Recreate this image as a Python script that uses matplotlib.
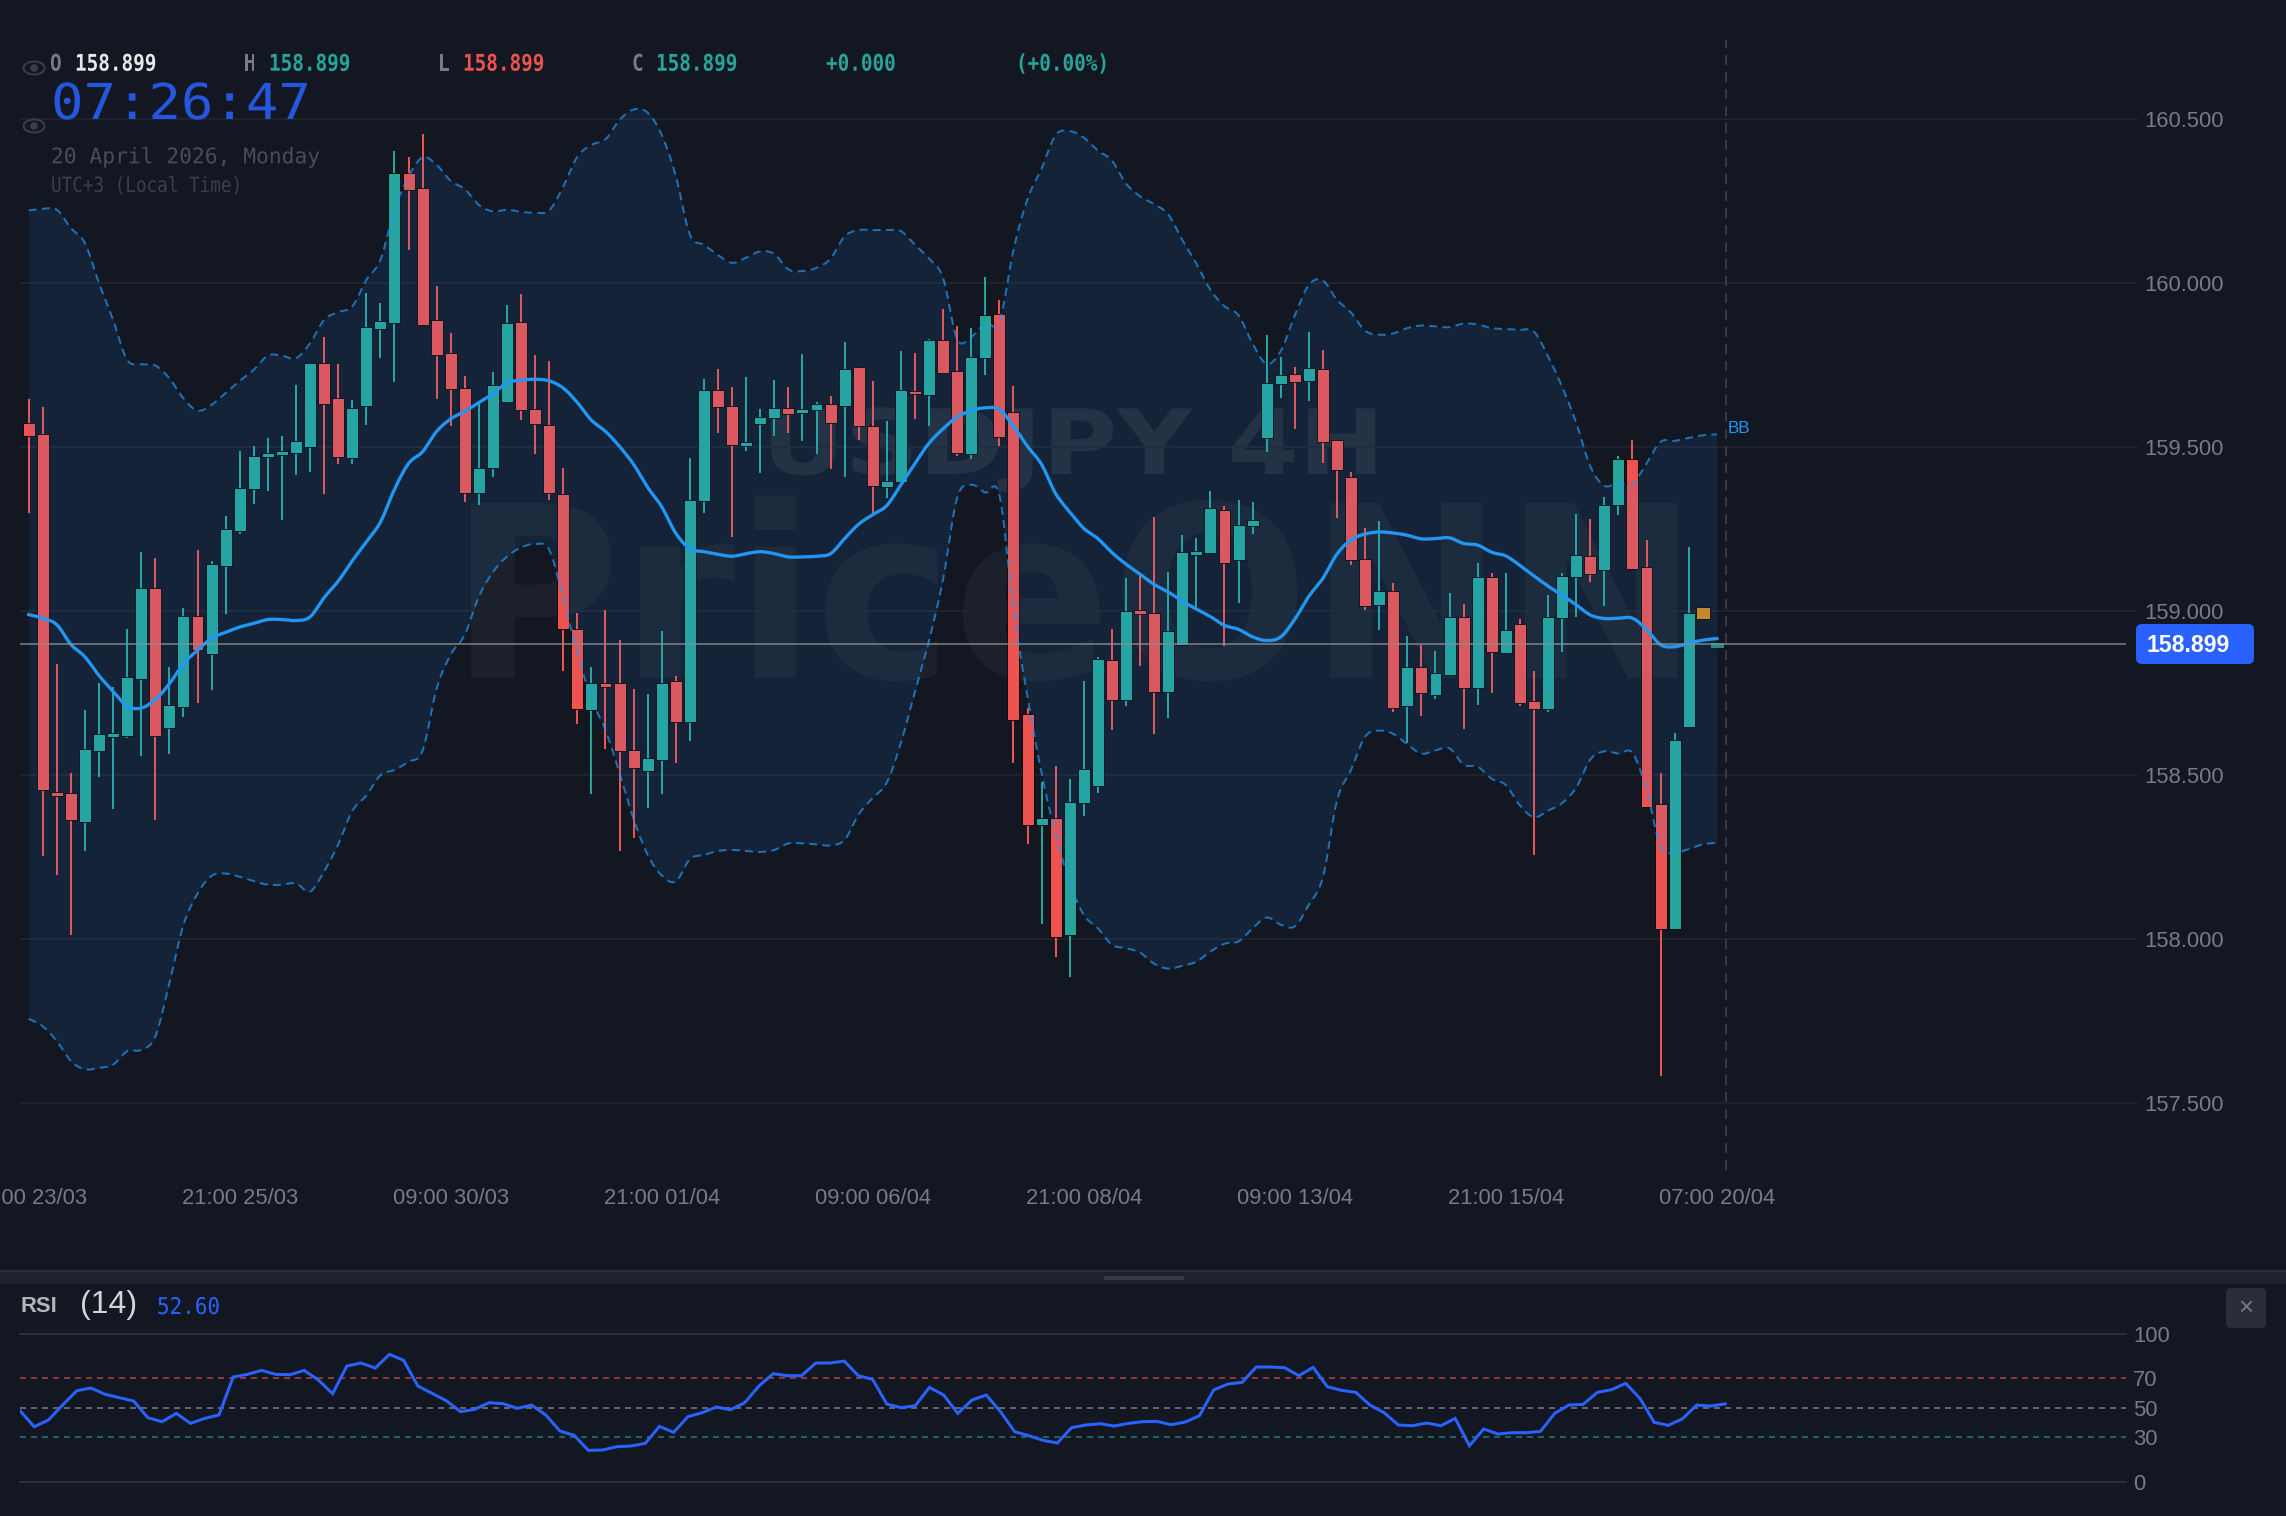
import numpy as np
import matplotlib
matplotlib.use("Agg")
import matplotlib.pyplot as plt
from matplotlib.patches import Ellipse, Circle, FancyBboxPatch, Rectangle
from matplotlib.patheffects import AbstractPathEffect
from matplotlib.transforms import Affine2D

plt.rcParams['font.family'] = ['Liberation Sans', 'DejaVu Sans']

# USDJPY 4H candles
opens = [
    159.575,159.541,158.448,158.444,158.356,158.574,158.617,158.620,158.794,159.071,
    158.643,158.708,158.986,158.869,159.138,159.245,159.371,159.469,159.477,159.482,
    159.500,159.758,159.651,159.467,159.624,159.859,159.880,160.335,160.290,159.887,
    159.786,159.680,159.360,159.435,159.638,159.881,159.616,159.568,159.357,158.946,
    158.699,158.779,158.779,158.575,158.513,158.544,158.787,158.662,159.336,159.673,
    159.625,159.506,159.570,159.589,159.620,159.603,159.612,159.632,159.625,159.743,
    159.565,159.378,159.394,159.671,159.659,159.827,159.732,159.480,159.771,159.907,
    159.607,158.685,158.346,158.369,158.012,158.414,158.467,158.850,158.727,159.002,
    158.995,158.754,158.897,159.171,159.178,159.307,159.157,159.260,159.528,159.692,
    159.723,159.701,159.737,159.523,159.408,159.159,159.019,159.061,158.709,158.829,
    158.743,158.805,158.981,158.766,159.103,158.871,158.960,158.724,158.702,158.978,
    159.103,159.168,159.126,159.324,159.464,159.134,158.410,158.031,158.646,158.977,
    158.899]
highs = [
    159.647,159.623,158.837,158.506,158.699,158.781,158.767,158.945,159.179,159.161,
    158.828,159.010,159.187,159.153,159.290,159.489,159.503,159.527,159.533,159.688,
    159.758,159.837,159.753,159.644,159.969,159.941,160.404,160.386,160.454,159.990,
    159.849,159.718,159.630,159.729,159.934,159.966,159.781,159.764,159.435,158.993,
    158.830,159.003,158.913,158.763,158.748,158.939,158.801,159.467,159.707,159.737,
    159.682,159.715,159.615,159.706,159.684,159.784,159.637,159.656,159.822,159.743,
    159.701,159.579,159.794,159.787,159.829,159.920,159.869,159.864,160.020,159.950,
    159.685,158.704,158.478,158.528,158.489,158.785,158.860,158.945,159.100,159.108,
    159.287,159.120,159.231,159.223,159.366,159.319,159.340,159.332,159.841,159.776,
    159.743,159.850,159.796,159.523,159.424,159.252,159.276,159.086,158.924,158.896,
    158.877,159.056,159.020,159.145,159.115,159.115,158.977,158.816,159.048,159.117,
    159.296,159.282,159.349,159.473,159.523,159.218,158.505,158.629,159.195,159.012,
    158.899]
lows = [
    159.300,158.253,158.196,158.011,158.267,158.495,158.397,158.612,158.559,158.361,
    158.564,158.678,158.718,158.758,158.992,159.234,159.327,159.367,159.278,159.416,
    159.425,159.356,159.448,159.448,159.568,159.773,159.698,160.100,159.872,159.648,
    159.563,159.332,159.322,159.410,159.634,159.582,159.478,159.339,158.816,158.655,
    158.443,158.580,158.268,158.307,158.400,158.442,158.537,158.604,159.299,159.542,
    159.227,159.489,159.422,159.533,159.542,159.519,159.480,159.432,159.410,159.522,
    159.299,159.344,159.391,159.587,159.565,159.724,159.472,159.463,159.721,159.502,
    158.536,158.290,158.046,157.943,157.883,158.375,158.444,158.637,158.710,158.832,
    158.625,158.673,158.897,159.011,159.178,158.893,159.025,159.235,159.486,159.650,
    159.554,159.642,159.452,159.283,159.139,159.003,158.942,158.692,158.597,158.679,
    158.732,158.805,158.640,158.712,158.749,158.871,158.710,158.256,158.692,158.874,
    158.983,159.089,159.016,159.294,159.129,158.403,157.581,158.031,158.646,158.977,
    158.899]
closes = [
    159.535,158.455,158.436,158.361,158.580,158.624,158.628,158.800,159.070,158.619,
    158.713,158.986,158.880,159.142,159.251,159.375,159.474,159.480,159.486,159.518,
    159.756,159.630,159.470,159.620,159.865,159.886,160.335,160.284,159.872,159.780,
    159.677,159.361,159.436,159.688,159.879,159.612,159.570,159.360,158.944,158.700,
    158.779,158.771,158.572,158.520,158.551,158.780,158.662,159.340,159.673,159.622,
    159.505,159.514,159.592,159.620,159.601,159.615,159.631,159.575,159.737,159.564,
    159.380,159.397,159.673,159.662,159.826,159.727,159.483,159.774,159.903,159.530,
    158.668,158.346,158.370,158.007,158.418,158.519,158.855,158.727,159.000,158.992,
    158.754,158.938,159.179,159.182,159.315,159.146,159.263,159.277,159.696,159.721,
    159.699,159.740,159.517,159.431,159.156,159.016,159.062,158.704,158.829,158.749,
    158.810,158.981,158.766,159.103,158.874,158.941,158.720,158.702,158.981,159.107,
    159.171,159.112,159.322,159.464,159.129,158.403,158.030,158.607,158.995,159.012,
    158.899]

# Bollinger bands
bb_upper = [
    160.222,160.227,160.224,160.168,160.122,160.000,159.888,159.766,159.753,159.749,
    159.710,159.649,159.611,159.629,159.665,159.702,159.736,159.779,159.779,159.771,
    159.817,159.888,159.912,159.929,160.010,160.071,160.224,160.325,160.384,160.361,
    160.312,160.287,160.239,160.219,160.224,160.218,160.215,160.222,160.295,160.386,
    160.422,160.439,160.498,160.530,160.520,160.452,160.327,160.148,160.117,160.086,
    160.062,160.078,160.097,160.089,160.042,160.037,160.047,160.075,160.143,160.162,
    160.162,160.162,160.159,160.117,160.075,160.016,159.829,159.836,159.878,159.883,
    160.101,160.257,160.350,160.452,160.464,160.444,160.405,160.374,160.304,160.265,
    160.241,160.210,160.132,160.060,159.980,159.930,159.902,159.816,159.754,159.793,
    159.902,159.995,160.008,159.949,159.910,159.855,159.843,159.847,159.863,159.871,
    159.868,159.866,159.877,159.874,159.863,159.860,159.858,159.852,159.777,159.684,
    159.575,159.442,159.382,159.391,159.388,159.450,159.516,159.519,159.528,159.536,
    159.539]
bb_middle = [
    158.989,158.978,158.958,158.898,158.860,158.803,158.755,158.710,158.704,158.730,
    158.778,158.839,158.880,158.917,158.935,158.951,158.962,158.974,158.974,158.971,
    158.982,159.041,159.091,159.153,159.211,159.271,159.371,159.450,159.486,159.548,
    159.586,159.609,159.636,159.663,159.696,159.704,159.707,159.702,159.680,159.636,
    159.582,159.548,159.502,159.447,159.377,159.318,159.237,159.190,159.181,159.173,
    159.167,159.175,159.181,159.175,159.165,159.165,159.167,159.175,159.221,159.265,
    159.294,159.322,159.385,159.450,159.512,159.556,159.592,159.611,159.620,159.615,
    159.564,159.502,159.447,159.358,159.302,159.252,159.221,159.178,159.143,159.112,
    159.081,159.058,159.030,159.006,158.983,158.956,158.944,158.921,158.910,158.921,
    158.975,159.045,159.100,159.174,159.217,159.235,159.241,159.238,159.231,159.220,
    159.221,159.223,159.206,159.201,159.179,159.168,159.139,159.107,159.076,159.048,
    159.019,158.988,158.977,158.978,158.978,158.944,158.897,158.891,158.902,158.911,
    158.916]
bb_lower = [
    157.756,157.733,157.688,157.627,157.602,157.606,157.616,157.657,157.661,157.702,
    157.865,158.042,158.138,158.192,158.199,158.189,158.176,158.165,158.165,158.169,
    158.144,158.206,158.288,158.390,158.437,158.499,158.515,158.540,158.574,158.764,
    158.867,158.928,159.044,159.119,159.166,159.194,159.204,159.187,159.037,158.873,
    158.730,158.637,158.505,158.365,158.256,158.193,158.175,158.243,158.256,158.268,
    158.271,158.268,158.265,158.271,158.291,158.291,158.288,158.285,158.302,158.380,
    158.430,158.477,158.598,158.754,158.910,159.097,159.346,159.385,159.361,159.354,
    159.003,158.738,158.505,158.318,158.170,158.073,158.032,157.982,157.971,157.958,
    157.924,157.909,157.918,157.930,157.961,157.985,157.992,158.032,158.065,158.043,
    158.038,158.104,158.188,158.422,158.516,158.617,158.635,158.625,158.593,158.565,
    158.575,158.581,158.531,158.525,158.488,158.469,158.407,158.371,158.391,158.414,
    158.461,158.547,158.572,158.565,158.567,158.453,158.282,158.263,158.274,158.288,
    158.293]

# RSI(14)
rsi = [
    47.97,37.16,41.67,51.80,61.49,63.29,59.01,56.76,54.50,43.24,
    40.54,46.17,39.41,42.79,45.05,70.72,72.52,75.23,72.52,72.30,
    75.23,68.69,59.46,78.15,80.18,76.80,86.04,81.98,64.64,59.68,
    54.73,47.30,48.87,53.38,52.70,49.55,51.80,45.05,34.23,31.31,
    21.17,21.40,23.65,24.10,25.90,37.39,33.33,43.92,46.62,50.45,
    48.65,53.38,64.64,72.97,71.62,71.62,80.18,80.18,81.53,71.62,
    69.14,52.48,50.00,51.35,63.74,58.56,46.17,55.18,58.56,47.30,
    33.78,31.08,27.93,26.13,36.49,38.29,39.19,37.61,39.41,40.54,
    40.77,38.51,40.32,44.59,61.94,65.99,67.12,77.48,77.48,77.03,
    71.62,77.25,64.19,61.71,60.36,51.80,46.62,38.29,37.84,39.64,
    37.84,42.79,24.32,35.59,32.21,33.11,33.11,34.01,46.17,51.80,
    52.25,60.36,62.16,66.44,56.31,40.09,38.06,42.57,51.80,51.13,
    52.60]

price_ticks = [157.5, 158.0, 158.5, 159.0, 159.5, 160.0, 160.5]
time_tick_positions = [0, 15, 30, 45, 60, 75, 90, 105, 120]
time_tick_labels = ["09:00 23/03", "21:00 25/03", "09:00 30/03", "21:00 01/04", "09:00 06/04",
                    "21:00 08/04", "09:00 13/04", "21:00 15/04", "07:00 20/04"]
rsi_ticks = [0, 30, 50, 70, 100]
last_price = 158.899
now_marker = 120.65

BG = "#131722"
TEAL = "#26A69A"
RED = "#EF5350"
ORANGE = "#D9861A"
BAND = "#2196F3"
RSI_BLUE = "#2962FF"
GRID = "#1E222D"
MUTED = "#787B86"

W, H = 2286, 1516
fig = plt.figure(figsize=(W / 100, H / 100), dpi=100, facecolor=BG)


def pane(left, top, right, bottom):
    return fig.add_axes([left / W, 1 - bottom / H, (right - left) / W, (bottom - top) / H], facecolor="none")


def px(n):
    return n * 0.72


class Widen(AbstractPathEffect):
    """Scale glyphs horizontally about a screen-pixel anchor."""

    def __init__(self, factor, anchor_px):
        super().__init__()
        x = anchor_px * fig.dpi / 100
        self._t = Affine2D().translate(-x, 0).scale(factor, 1).translate(x, 0)

    def draw_path(self, renderer, gc, tpath, affine, rgbFace=None):
        renderer.draw_path(gc, tpath, affine + self._t, rgbFace)


def smooth(x, y, k=8):
    """Catmull-Rom curve through every sample, used for the band outlines."""
    x = np.asarray(x, float)
    y = np.asarray(y, float)
    p = np.concatenate(([2 * y[0] - y[1]], y, [2 * y[-1] - y[-2]]))
    t = np.linspace(0, 1, k, endpoint=False)[:, None]
    p0, p1, p2, p3 = p[:-3], p[1:-2], p[2:-1], p[3:]
    seg = 0.5 * (2 * p1 + (p2 - p0) * t + (2 * p0 - 5 * p1 + 4 * p2 - p3) * t ** 2 + (3 * p1 - p0 - 3 * p2 + p3) * t ** 3)
    xs = (x[:-1] + (x[1:] - x[:-1]) * t).T.ravel()
    return np.append(xs, x[-1]), np.append(seg.T.ravel(), y[-1])


# ---- price pane ----
ax = pane(20, 40, 2126, 1170)
n = len(closes)
idx = np.arange(n)
o, h, l, c = map(np.array, (opens, highs, lows, closes))
step = 14.068
ax.set_xlim((20 - 28.7) / step, (2126 - 28.7) / step)
scale = 327.8
ax.set_ylim(160.5 - (1170 - 119.3) / scale, 160.5 + (119.3 - 40) / scale)

colors = [TEAL if cc >= oo else RED for oo, cc in zip(opens, closes)]
colors[119] = ORANGE
widths = np.full(n, 0.85)
widths[119:] = 1.0
alphas = np.ones(n)
alphas[120] = 0.8
mid = (o + c) / 2
height = np.maximum(np.abs(c - o), 0.012)
bottoms = mid - height / 2
# the still-forming candle has no range yet, so it gets a minimum visible body hanging below the price
height[120] = 0.018
bottoms[120] = closes[120] - 0.013

ax.vlines(idx, l, h, colors=colors, linewidth=px(2), zorder=2)
for i in idx:
    ax.bar(i, height[i], bottom=bottoms[i], width=widths[i], color=colors[i], alpha=alphas[i],
           edgecolor=(0, 0, 0, 0.25), linewidth=0.6, zorder=2.2)

xu, yu = smooth(idx, bb_upper)
xm, ym = smooth(idx, bb_middle)
xl, yl = smooth(idx, bb_lower)
ax.fill_between(xu, yl, yu, color=BAND, alpha=0.1, linewidth=0, zorder=3)
ax.plot(xu, yu, color=BAND, alpha=0.7, lw=px(2), ls=(0, (4, 2.6)), zorder=4)
ax.plot(xl, yl, color=BAND, alpha=0.7, lw=px(2), ls=(0, (4, 2.6)), zorder=4)
ax.plot(xm, ym, color=BAND, lw=px(3.3), zorder=4.2, solid_joinstyle="round")
ax.axhline(last_price, color="#8A8C92", alpha=0.7, lw=px(2), zorder=5)
ax.axvline(now_marker, color="#363A45", lw=px(2), ls=(0, (5, 3.5)), zorder=1.5)

ax.set_axisbelow(True)
ax.grid(axis="y", color=GRID, lw=px(2))
ax.grid(axis="x", visible=False)
ax.yaxis.tick_right()
ax.set_yticks(price_ticks, [f"{v:.3f}" for v in price_ticks])
ax.set_xticks(time_tick_positions, time_tick_labels)
ax.tick_params(axis="y", length=px(12), width=px(2), color=GRID, pad=px(6), labelsize=px(22), labelcolor=MUTED)
ax.tick_params(axis="x", length=0, pad=px(17.5), labelsize=px(22), labelcolor=MUTED)
for s in ax.spines.values():
    s.set_visible(False)

# Watermarks sit beneath the grid and candles
wm_kw = dict(transform=fig.transFigure, family="DejaVu Sans", weight="bold", color="white",
             ha="center", va="baseline", zorder=0.1)
ax.text(1074 / W, 1 - 678 / H, "PriceONN", fontsize=px(240), alpha=0.04,
        path_effects=[Widen(0.97, 1074)], **wm_kw)
ax.text(1073 / W, 1 - 474 / H, "USDJPY 4H", fontsize=px(90), alpha=0.075,
        path_effects=[Widen(1.14, 1073)], **wm_kw)

# ---- RSI pane ----
rx = pane(20, 1333.7, 2126, 1481.7)
rx.set_xlim(0, (2126 - 20) / 14.21)
rx.set_ylim(0, 100)
rx.axhline(100, color="#2A2E39", lw=px(2), clip_on=False)
rx.axhline(0, color="#2A2E39", lw=px(2), clip_on=False)
rx.axhline(70, color=RED, alpha=0.55, lw=px(2), ls=(0, (3, 2.5)))
rx.axhline(50, color=MUTED, alpha=0.8, lw=px(2), ls=(0, (3, 2.5)))
rx.axhline(30, color=TEAL, alpha=0.55, lw=px(2), ls=(0, (3, 2.5)))
rx.plot(np.arange(len(rsi)), rsi, color=RSI_BLUE, lw=px(3), solid_joinstyle="miter", zorder=4)
rx.yaxis.tick_right()
rx.set_yticks(rsi_ticks, [str(v) for v in rsi_ticks])
rx.set_xticks([])
rx.tick_params(axis="y", length=0, pad=px(7), labelsize=px(22), labelcolor=MUTED)
for s in rx.spines.values():
    s.set_visible(False)

# ---- interface layer, in screen pixels ----
ui = pane(0, 0, W, H)
ui.set_xlim(0, W)
ui.set_ylim(H, 0)
ui.axis("off")

# pane separator and its grab handle
ui.add_patch(Rectangle((0, 1272), W, 12, color="#1E222D", lw=0))
ui.add_patch(Rectangle((0, 1270), W, 2, color="#2A2E39", lw=0))
ui.add_patch(Rectangle((1104, 1276), 80, 4, color="#363A45", lw=0))

# last-price tag
ui.add_patch(FancyBboxPatch((2140, 628), 110, 32, boxstyle="round,pad=4,rounding_size=6", fc=RSI_BLUE, ec="none"))
ui.text(2146, 645.5, "158.899", color="white", weight="bold", fontsize=px(23), ha="left", va="center")
ui.text(1727.5, 428.5, "BB", color=BAND, fontsize=px(17), ha="left", va="center")

mono = "DejaVu Sans Mono"


def mono_text(x, baseline, txt, color, em, widen, **kw):
    ui.text(x, baseline, txt, color=color, family=mono, fontsize=px(em), ha="left", va="baseline",
            path_effects=[Widen(widen, x)], **kw)


# OHLC legend
for x, txt, col in [
    (50, "O", MUTED), (75, "158.899", "#E8E8EA"),
    (244, "H", MUTED), (269, "158.899", TEAL),
    (438, "L", MUTED), (463, "158.899", RED),
    (632, "C", MUTED), (656, "158.899", TEAL),
    (826, "+0.000", TEAL), (1016, "(+0.00%)", TEAL),
]:
    mono_text(x, 70.7, txt, col, 23, 0.84, weight="bold")

# eye toggles
for y in (68, 126):
    ui.add_patch(Ellipse((34, y), 21, 13, fc="none", ec="#3A3E48", lw=px(2)))
    ui.add_patch(Circle((34, y), 3.8, fc="#3A3E48", ec="none"))

# clock block
mono_text(51, 119, "07:26:47", "#2556DF", 49.5, 1.09)
mono_text(51, 163.3, "20 April 2026, Monday", "#4A4D57", 21.5, 0.99)
mono_text(51, 192, "UTC+3 (Local Time)", "#3C3F49", 21, 0.84)

# RSI legend and close button
ui.text(20, 1306, "RSI", color="#B2B5BE", weight="bold", fontsize=px(22), ha="left", va="center")
ui.text(80, 1305.5, "(14)", color="#D1D4DC", fontsize=px(32), ha="left", va="center")
mono_text(157, 1314, "52.60", RSI_BLUE, 23, 0.91)
ui.add_patch(FancyBboxPatch((2230, 1292), 32, 32, boxstyle="round,pad=4,rounding_size=5", fc="#2A2E39", ec="none"))
ui.text(2246, 1308, "×", color=MUTED, fontsize=px(26), ha="center", va="center")

fig.savefig("out.png", dpi=100, facecolor=BG)
